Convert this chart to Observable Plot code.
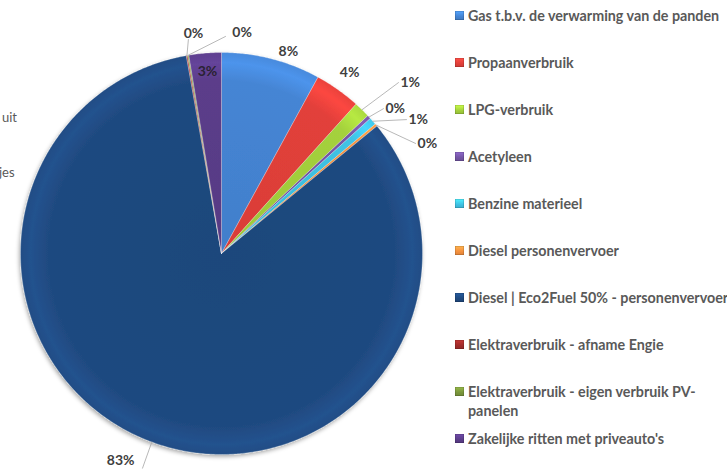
<!DOCTYPE html>
<html><head><meta charset="utf-8">
<script src="https://cdn.jsdelivr.net/npm/d3@7"></script>
<script src="https://cdn.jsdelivr.net/npm/@observablehq/plot@0.6"></script>
<style>
body{margin:0;background:#fff;font-family:Lato,"Open Sans",sans-serif;}
#wrap{position:relative;width:727px;height:469px;overflow:hidden;background:#fff;}
#chart{position:absolute;left:0;top:0;}
#legend{position:absolute;left:455px;top:0;width:290px;height:469px;}
.item{position:absolute;left:0;width:286px;display:flex;align-items:flex-start;font-weight:700;font-size:14.3px;color:#595959;line-height:19px;}
.sw{width:9px;height:9px;margin-top:5px;margin-right:4px;flex:none;box-shadow:inset 0 0 0 0.5px rgba(0,0,0,0.25);}
.frag{position:absolute;font-size:13px;color:#595959;line-height:16px;}
</style></head><body>
<div id="wrap"><div id="chart"></div><div id="legend"></div>
<div class="frag" style="left:2px;top:109px">uit</div>
<div class="frag" style="left:-1px;top:164px">jes</div>
</div>
<script>
// ---- data ----
const categories = [
  "Gas t.b.v. de verwarming van de panden",
  "Propaanverbruik",
  "LPG-verbruik",
  "Acetyleen",
  "Benzine materieel",
  "Diesel personenvervoer",
  "Diesel | Eco2Fuel 50% - personenvervoer",
  "Elektraverbruik - afname Engie",
  "Elektraverbruik - eigen verbruik PV-panelen",
  "Zakelijke ritten met priveauto's"
];
const values = [7.97, 3.7, 1.3, 0.3, 0.6, 0.2, 83.13, 0.1, 0.1, 2.6];
const colors = ["#4585d4", "#e2403a", "#a4d13c", "#7556a6", "#3fc2e4", "#f5913f", "#1f4a80", "#a02c2a", "#7a963c", "#5b3d8a"];

// ---- layout (label placement in polar coords: degrees clockwise from top, radius in pie radii) ----
const labelLayout = [
  {a: 18.3, r: 1.059, anchor: "middle"},
  {a: 35.3, r: 1.103, anchor: "middle"},
  {a: 46.0, r: 1.224, anchor: "start", lead: [46.0, 1.224]},
  {a: 48.2, r: 1.081, anchor: "start", lead: [48.2, 1.081]},
  {a: 54.1, r: 1.136, anchor: "start", lead: [54.1, 1.136]},
  {a: 60.45, r: 1.110, anchor: "start", lead: [60.45, 1.110]},
  {a: 201.8, r: 1.125, anchor: "end", lead: [200.2, 1.138]},
  {a: 352.75, r: 1.103, anchor: "middle", lead: [351.2, 1.077]},
  {a: 2.3, r: 1.10, anchor: "start", lead: [1.06, 1.08]},
  {a: 355.6, r: 0.908, anchor: "middle"}
];

const W = 445, H = 469, cx = 221, cy = 253, R = 201;
const polar = (deg, f) => ({x: f * Math.sin(deg * Math.PI / 180), y: f * Math.cos(deg * Math.PI / 180)});

const arcs = d3.pie().sort(null).value(d => d)(values);
const slices = [];
arcs.forEach((a, i) => {
  const fill = colors[i];
  slices.push({name: categories[i], fill, x: 0, y: 0});
  const n = Math.max(2, Math.ceil((a.endAngle - a.startAngle) / 0.008));
  for (let k = 0; k <= n; k++) {
    const t = a.startAngle + (a.endAngle - a.startAngle) * k / n;
    slices.push({name: categories[i], fill, x: Math.sin(t), y: Math.cos(t)});
  }
  slices.push({name: categories[i], fill, x: 0, y: 0});
});

const labels = arcs.map((a, i) => {
  const L = labelLayout[i];
  const p = polar(L.a, L.r);
  return {...p, text: Math.round(values[i]) + "%", anchor: L.anchor, inside: L.r < 1};
});
const leaders = [];
arcs.forEach((a, i) => {
  const L = labelLayout[i];
  if (!L.lead) return;
  const mid = (a.startAngle + a.endAngle) / 2 * 180 / Math.PI;
  const p0 = polar(mid, 1.0), p1 = polar(L.lead[0], L.lead[1]);
  leaders.push({id: i, ...p0}, {id: i, ...p1});
});

const textOpts = {x: "x", y: "y", text: "text", fontFamily: "Lato, 'Open Sans', sans-serif", fontWeight: 700, fontSize: 14, fill: "#404040"};

const plot = Plot.plot({
  width: W, height: H,
  margin: 0,
  x: {domain: [(0 - cx) / R, (W - cx) / R], axis: null},
  y: {domain: [(cy - H) / R, cy / R], axis: null},
  color: {type: "identity"},
  marks: [
    Plot.line(slices, {x: "x", y: "y", z: "name", fill: "fill", stroke: "#ffffff", strokeOpacity: 0.45, strokeWidth: 0.6, curve: "linear"}),
    Plot.line(leaders, {x: "x", y: "y", z: "id", stroke: "#a6a6a6", strokeWidth: 0.8}),
    Plot.text(labels.filter(d => d.anchor === "middle" && !d.inside), {...textOpts, textAnchor: "middle"}),
    Plot.text(labels.filter(d => d.inside), {...textOpts, textAnchor: "middle", fill: "#2a2233"}),
    Plot.text(labels.filter(d => d.anchor === "start"), {...textOpts, textAnchor: "start", dx: 2}),
    Plot.text(labels.filter(d => d.anchor === "end"), {...textOpts, textAnchor: "end", dx: -3, dy: -3})
  ]
});
document.getElementById("chart").appendChild(plot);

// gradients for slice shading (applied to the rendered slice paths)
try {
  const svg = plot.tagName.toLowerCase() === "svg" ? plot : plot.querySelector("svg");
  const px = plot.scale("x").apply(0), py = plot.scale("y").apply(0);
  const pr = plot.scale("x").apply(1) - px;
  const defs = d3.select(svg).insert("defs", ":first-child");
  const f = defs.append("filter").attr("id", "pieShadow").attr("x", "-10%").attr("y", "-10%").attr("width", "120%").attr("height", "120%");
  f.append("feDropShadow").attr("dx", -1).attr("dy", 2).attr("stdDeviation", 2.2).attr("flood-color", "#000").attr("flood-opacity", 0.35);
  colors.forEach((c, i) => {
    const base = d3.color(c);
    const g = defs.append("radialGradient").attr("id", "slice" + i)
      .attr("gradientUnits", "userSpaceOnUse").attr("cx", px).attr("cy", py).attr("r", pr);
    g.append("stop").attr("offset", 0).attr("stop-color", base.darker(0.12).formatHex());
    g.append("stop").attr("offset", 0.86).attr("stop-color", base.formatHex());
    g.append("stop").attr("offset", 0.95).attr("stop-color", base.brighter(0.3).formatHex());
    g.append("stop").attr("offset", 1).attr("stop-color", base.brighter(0.1).formatHex());
  });
  const pieG = d3.select(svg).select("g[aria-label='line']");
  pieG.attr("filter", "url(#pieShadow)");
  pieG.selectAll("path").each(function () {
    const fc = d3.color(this.getAttribute("fill"));
    if (!fc) return;
    const idx = colors.findIndex(c => d3.color(c).formatHex() === fc.formatHex());
    if (idx >= 0) this.setAttribute("fill", `url(#slice${idx})`);
  });
} catch (e) { console.error(e); }

// legend
const legend = d3.select("#legend");
categories.forEach((name, i) => {
  const base = d3.color(colors[i]);
  const item = legend.append("div").attr("class", "item").style("top", (15 + i * 47.1 - 9.5) + "px");
  item.append("div").attr("class", "sw")
    .style("background", `linear-gradient(${base.brighter(0.6).formatHex()}, ${base.formatHex()} 60%, ${base.darker(0.3).formatHex()})`);
  item.append("div").text(name);
});
</script>
</body></html>
